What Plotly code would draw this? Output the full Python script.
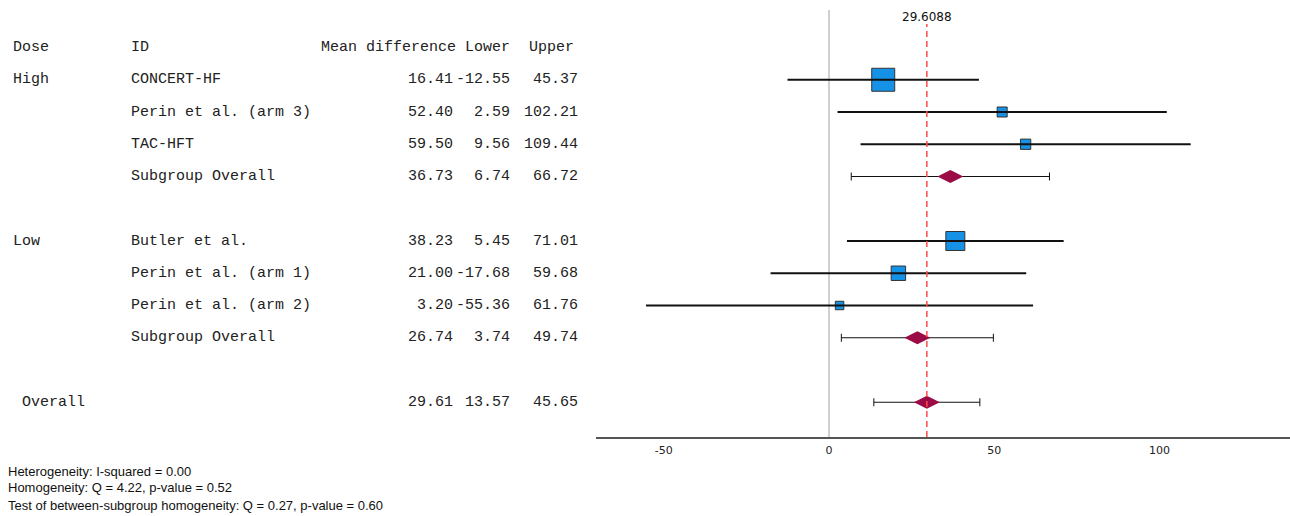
import plotly.graph_objects as go
import numpy as np

# ---------------- data ----------------
dose_groups = ["High", "Low"]
high_ids = ["CONCERT-HF", "Perin et al. (arm 3)", "TAC-HFT"]
high_mean = [16.41, 52.40, 59.50]
high_lower = [-12.55, 2.59, 9.56]
high_upper = [45.37, 102.21, 109.44]
high_weight = [38.4, 7.3, 7.7]

low_ids = ["Butler et al.", "Perin et al. (arm 1)", "Perin et al. (arm 2)"]
low_mean = [38.23, 21.00, 3.20]
low_lower = [5.45, -17.68, -55.36]
low_upper = [71.01, 59.68, 61.76]
low_weight = [26.2, 15.2, 5.2]

subgroup_label = "Subgroup Overall"
subgroup_mean = [36.73, 26.74]
subgroup_lower = [6.74, 3.74]
subgroup_upper = [66.72, 49.74]

overall_label = "Overall"
overall_mean = 29.61
overall_lower = 13.57
overall_upper = 45.65
overall_exact = 29.6088

headers = ["Dose", "ID", "Mean difference", "Lower", "Upper"]
x_ticks = [-50, 0, 50, 100]
footnotes = [
    "Heterogeneity: I-squared = 0.00",
    "Homogeneity: Q = 4.22, p-value = 0.52",
    "Test of between-subgroup homogeneity: Q = 0.27, p-value = 0.60",
]

# ---------------- layout of rows ----------------
W, H = 1290, 516
groups = [
    (dose_groups[0], high_ids, high_mean, high_lower, high_upper, high_weight),
    (dose_groups[1], low_ids, low_mean, low_lower, low_upper, low_weight),
]

study_rows, study_x, study_lo, study_hi, study_w = [], [], [], [], []
sub_rows = []
text_rows = []  # (row, dose, id, mean, lo, hi)
row = 1
for gi, (dose, ids, m, lo, hi, w) in enumerate(groups):
    for i in range(len(ids)):
        study_rows.append(row)
        study_x.append(m[i]); study_lo.append(lo[i]); study_hi.append(hi[i]); study_w.append(w[i])
        text_rows.append((row, dose if i == 0 else "", ids[i], m[i], lo[i], hi[i]))
        row += 1
    sub_rows.append(row)
    text_rows.append((row, "", subgroup_label, subgroup_mean[gi], subgroup_lower[gi], subgroup_upper[gi]))
    row += 2
overall_row = row

fig = go.Figure()

# study squares
sizes = [3.71 * np.sqrt(v) for v in study_w]
fig.add_trace(go.Scatter(
    x=study_x, y=study_rows, mode="markers",
    marker=dict(symbol="square", size=sizes, color="#1592e6", opacity=1,
                line=dict(color="#333333", width=1)),
    hoverinfo="skip", showlegend=False))

# study CI lines on top
lx, ly = [], []
for r, a, b in zip(study_rows, study_lo, study_hi):
    lx += [a, b, None]; ly += [r, r, None]
fig.add_trace(go.Scatter(x=lx, y=ly, mode="lines",
                         line=dict(color="#111111", width=2),
                         hoverinfo="skip", showlegend=False))

# subgroup + overall diamonds with capped CIs
dm = subgroup_mean + [overall_mean]
dl = subgroup_lower + [overall_lower]
du = subgroup_upper + [overall_upper]
dr = sub_rows + [overall_row]
fig.add_trace(go.Scatter(
    x=dm, y=dr, mode="markers",
    marker=dict(symbol="diamond-wide", size=18.5, color="#9b0b45", opacity=1,
                line=dict(width=0)),
    error_x=dict(type="data", symmetric=False,
                 array=[u - m for u, m in zip(du, dm)],
                 arrayminus=[m - l for m, l in zip(dm, dl)],
                 color="#111111", thickness=1, width=4),
    hoverinfo="skip", showlegend=False))

# ---------------- table text ----------------
mono = dict(family="Liberation Mono, Courier New, monospace", size=15, color="#222222")
col_left = {"dose": 12 / W, "id": 130 / W}
col_right = {"mean": 454 / W, "lo": 511 / W, "hi": 579 / W}
header_left = [12 / W, 130 / W, 320 / W, 464 / W, 528 / W]

ann = []
for h, xl in zip(headers, header_left):
    ann.append(dict(x=xl, y=0, xref="paper", yref="y", text=h, showarrow=False,
                    xanchor="left", yanchor="middle", font=mono, borderpad=0))
for (r, dose, sid, m, lo, hi) in text_rows:
    if dose:
        ann.append(dict(x=col_left["dose"], y=r, xref="paper", yref="y", text=dose,
                        showarrow=False, xanchor="left", yanchor="middle", font=mono, borderpad=0))
    ann.append(dict(x=col_left["id"], y=r, xref="paper", yref="y", text=sid,
                    showarrow=False, xanchor="left", yanchor="middle", font=mono, borderpad=0))
    for key, v in (("mean", m), ("lo", lo), ("hi", hi)):
        ann.append(dict(x=col_right[key], y=r, xref="paper", yref="y", text=f"{v:.2f}",
                        showarrow=False, xanchor="right", yanchor="middle", font=mono, borderpad=0))
ann.append(dict(x=21 / W, y=overall_row, xref="paper", yref="y", text=overall_label,
                showarrow=False, xanchor="left", yanchor="middle", font=mono, borderpad=0))
for key, v in (("mean", overall_mean), ("lo", overall_lower), ("hi", overall_upper)):
    ann.append(dict(x=col_right[key], y=overall_row, xref="paper", yref="y", text=f"{v:.2f}",
                    showarrow=False, xanchor="right", yanchor="middle", font=mono, borderpad=0))

# reference value label
ann.append(dict(x=overall_exact, y=(437 - 17) / 427, xref="x", yref="paper",
                text=f"{overall_exact:.4f}", showarrow=False, xanchor="center", yanchor="middle",
                font=dict(family="DejaVu Sans, sans-serif", size=12, color="#111111"), borderpad=0))

# footnotes
for i, t in enumerate(footnotes):
    ann.append(dict(x=7 / W, y=(437 - (471 + 17 * i)) / 427, xref="paper", yref="paper",
                    text=t, showarrow=False, xanchor="left", yanchor="middle",
                    font=dict(family="Liberation Sans, Arial, sans-serif", size=13, color="#111111"),
                    borderpad=0))

# red dashed reference line
shapes = [dict(type="line", xref="x", yref="paper", x0=overall_exact, x1=overall_exact,
               y0=0, y1=(437 - 24) / 427, line=dict(color="#ff4a4a", width=1.5, dash="6px,4px"),
               layer="above")]

row_px0, row_step = 47.5, 32.25
fig.update_layout(
    width=W, height=H,
    margin=dict(l=0, r=0, t=10, b=79),
    plot_bgcolor="white", paper_bgcolor="white",
    xaxis=dict(domain=[596 / W, 1], range=[-70.5, 139.5],
               tickvals=x_ticks, ticktext=[str(v) for v in x_ticks],
               showgrid=False, zeroline=True, zerolinecolor="#d0d0d0", zerolinewidth=2,
               showline=True, linecolor="#555555", linewidth=2, ticks="",
               ticklabelstandoff=2,
               tickfont=dict(family="DejaVu Sans, sans-serif", size=11, color="#222222")),
    yaxis=dict(range=[(437 - row_px0) / row_step, (10 - row_px0) / row_step],
               visible=False, showgrid=False, zeroline=False),
    annotations=ann, shapes=shapes,
)

fig.write_html("out.html", config={"displayModeBar": False},
               post_script="document.body.style.margin='0';document.body.style.overflow='hidden';")
